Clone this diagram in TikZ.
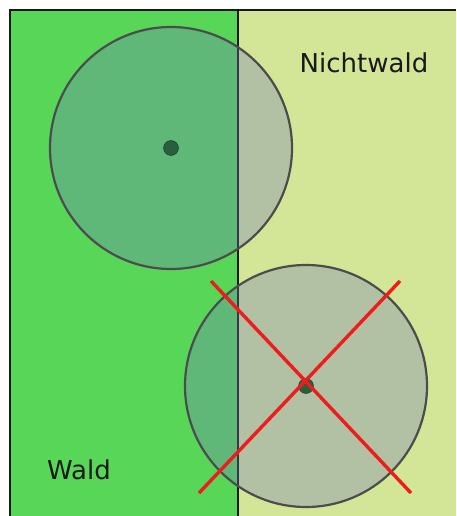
\documentclass[tikz,border=0pt]{standalone}
\usepackage{fontspec}
\setmainfont{DejaVu Sans}
\usetikzlibrary{positioning,calc}
\definecolor{waldgreen}{RGB}{88,214,88}
\definecolor{nichtgreen}{RGB}{211,229,151}
\definecolor{discgray}{RGB}{110,120,190}
\definecolor{dotgreen}{RGB}{40,95,60}
\definecolor{crossred}{RGB}{238,28,28}
\tikzset{
  area/.style={draw=none},
  disc/.style={circle, draw=black!70, line width=2.2pt, fill=discgray, fill opacity=0.32, minimum size=242pt, inner sep=0pt},
  centre/.style={circle, fill=dotgreen, draw=dotgreen!60!black, minimum size=15pt, inner sep=0pt},
  cross/.style={crossred, line width=3.4pt},
  label/.style={font=\fontsize{26}{30}\selectfont, text=black!90}
}
\begin{document}
\begin{tikzpicture}[x=1pt,y=-1pt]
\useasboundingbox (0,0) rectangle (456,516);
\fill[white] (0,0) rectangle (456,516);
\fill[waldgreen] (10,10) rectangle (238,516);
\fill[nichtgreen] (238,10) rectangle (456,516);
\draw[line width=1.8pt, black!90] (456,10) -- (10,10) -- (10,516);
\draw[line width=1.8pt, black!90] (238,10) -- (238,516);
\node[label] (nw) at (364,63) {Nichtwald};
\node[label] (w) at (79,470) {Wald};
% oben: Kreis im Wald
\node[disc] (k1) at (171,148) {};
\node[centre] (p1) at (k1.center) {};
% unten: Kreis im Nichtwald, durchgestrichen
\node[disc] (k2) at (306,386) {};
\node[centre] (p2) at (k2.center) {};
\coordinate (a1) at (211,281);
\coordinate (a2) at (411,493);
\coordinate (b1) at (400,281);
\coordinate (b2) at (199,493);
\draw[cross] (a1) -- (a2);
\draw[cross] (b1) -- (b2);
\end{tikzpicture}
\end{document}
